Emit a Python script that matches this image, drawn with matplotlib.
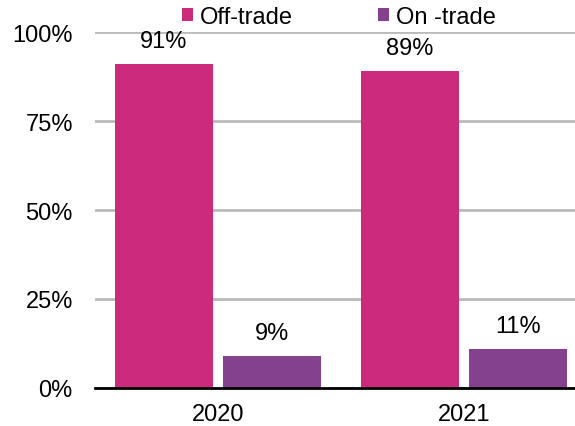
import numpy as np
import matplotlib.pyplot as plt

years = ['2020', '2021']
off_trade = [91, 89]
on_trade = [9, 11]
series_names = ['Off-trade', 'On -trade']

plt.rcParams['font.family'] = ['Liberation Sans', 'DejaVu Sans']
fs = 17

fig = plt.figure(figsize=(5.75, 4.27), dpi=100)
# axes run slightly past the right edge of the figure
ax = fig.add_axes([0.1652, 0.089, 0.8557, 0.8337])

x = np.arange(len(years))
w = 0.4
off = 0.22

b1 = ax.bar(x - off, off_trade, w, color='#CC2A7A', label=series_names[0], zorder=3)
b2 = ax.bar(x + off, on_trade, w, color='#84418E', label=series_names[1], zorder=3)

for bars, vals in [(b1, off_trade), (b2, on_trade)]:
    for rect, v in zip(bars, vals):
        ax.text(rect.get_x() + rect.get_width() / 2, v + 4.8, f'{v}%',
                ha='center', va='baseline', fontsize=fs)

ax.set_xlim(-0.5, 1.5)
ax.set_ylim(0, 100)
ax.set_yticks([0, 25, 50, 75, 100])
ax.set_yticklabels([f'{t}%' for t in [0, 25, 50, 75, 100]], fontsize=fs)
ax.set_xticks(x)
ax.set_xticklabels(years, fontsize=fs)
ax.tick_params(axis='x', length=0, pad=11)
ax.tick_params(axis='y', length=0, pad=16)

ax.yaxis.grid(True, color='#BBBBBB', linewidth=2, zorder=0)
for s in ['left', 'right', 'top']:
    ax.spines[s].set_visible(False)
ax.spines['bottom'].set_linewidth(2)
ax.spines['bottom'].set_color('black')
ax.spines['bottom'].set_zorder(4)

fig.legend(loc='center', bbox_to_anchor=(0.59, 0.957), ncol=2, frameon=False,
           fontsize=fs, handlelength=0.47, handleheight=0.47, handletextpad=0.3,
           columnspacing=3.6, borderpad=0, borderaxespad=0)

fig.savefig('out.png', dpi=100)
